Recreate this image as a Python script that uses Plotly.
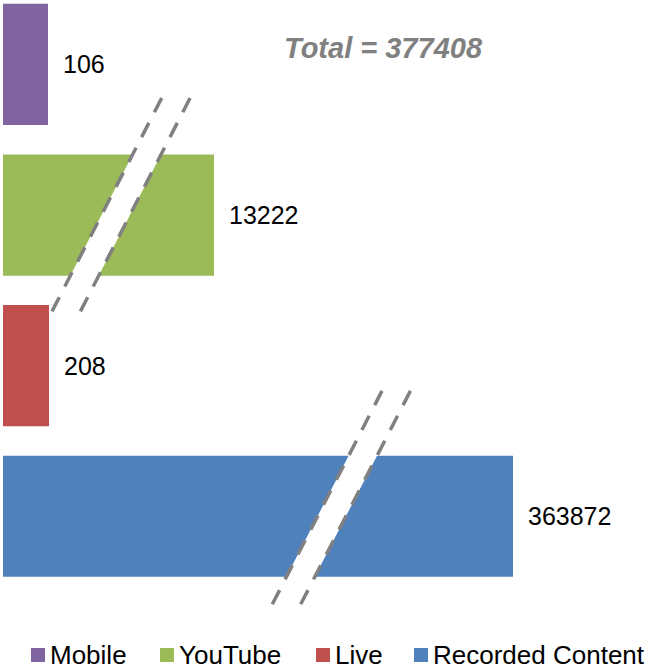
import plotly.graph_objects as go

# ---- data ----
categories = ["Mobile", "YouTube", "Live", "Recorded Content"]
values = [106, 13222, 208, 363872]
# bar lengths as drawn on the (broken) display axis
display_length = [45, 211, 46, 510]
colors = ["#8064A2", "#9BBB59", "#C0504D", "#4F81BD"]
# axis breaks: category -> (x centre on display axis, vertical offset in category units)
breaks = {"YouTube": (117.9, -0.067), "Recorded Content": (338.2, -0.122)}

total = sum(values)
FONT = "Liberation Sans, Arial, sans-serif"

fig = go.Figure()
for i, (cat, v, L, c) in enumerate(zip(categories, values, display_length, colors)):
    fig.add_trace(go.Bar(
        y=[i], x=[L], name=cat, orientation="h",
        marker=dict(color=c, line=dict(width=0)),
        width=[0.805], hoverinfo="skip", showlegend=False,
    ))
    fig.add_annotation(x=L, y=i, text=str(v), showarrow=False,
                       xanchor="left", yanchor="middle", xshift=13,
                       font=dict(size=25, color="#000000", family=FONT))

# break markers
half_h = 0.7105
half_dx = 55
half_gap = 14.2
for cat, (cx, dy) in breaks.items():
    yc = categories.index(cat) + dy
    yt, yb = yc - half_h, yc + half_h
    path = (f"M {cx - half_gap + half_dx},{yt} L {cx + half_gap + half_dx},{yt} "
            f"L {cx + half_gap - half_dx},{yb} L {cx - half_gap - half_dx},{yb} Z")
    fig.add_shape(type="path", path=path, fillcolor="white",
                  line=dict(width=0), layer="above")
    for s in (-1, 1):
        fig.add_shape(type="line",
                      x0=cx + s * half_gap + half_dx, y0=yt,
                      x1=cx + s * half_gap - half_dx, y1=yb,
                      line=dict(color="#808080", width=3.5, dash="16px,12px"),
                      layer="above")

fig.add_annotation(xref="paper", yref="paper", x=(383.5 - 3) / 640, y=1 - 48 / 620,
                   text=f"<b><i>Total = {total}</i></b>", showarrow=False,
                   xanchor="center", yanchor="middle",
                   font=dict(size=29, color="#808080", family=FONT))

# legend (drawn below the plot)
legend_x = [28, 157, 313, 411]   # left edge of each swatch (display-axis units)
legend_y = 1 - 655 / 620         # paper units
for cat, c, lx in zip(categories, colors, legend_x):
    fig.add_shape(type="rect", xref="x", yref="paper",
                  x0=lx, x1=lx + 14, y0=legend_y - 7 / 620, y1=legend_y + 7 / 620,
                  fillcolor=c, line=dict(width=0), layer="above")
    fig.add_annotation(xref="x", yref="paper", x=lx + 18, y=legend_y, text=cat,
                       showarrow=False, xanchor="left", yanchor="middle",
                       borderpad=0,
                       font=dict(size=26, color="#000000", family=FONT))

fig.update_layout(
    width=650, height=670,
    margin=dict(l=3, r=7, t=0, b=50),
    paper_bgcolor="white", plot_bgcolor="white",
    barmode="overlay",
    showlegend=False,
    xaxis=dict(range=[0, 640], visible=False, fixedrange=True),
    yaxis=dict(range=[3.689, -0.428], visible=False, fixedrange=True),
    font=dict(family=FONT),
)

fig.write_html("out.html", config={"displayModeBar": False},
               post_script="document.body.style.margin='0px';")
